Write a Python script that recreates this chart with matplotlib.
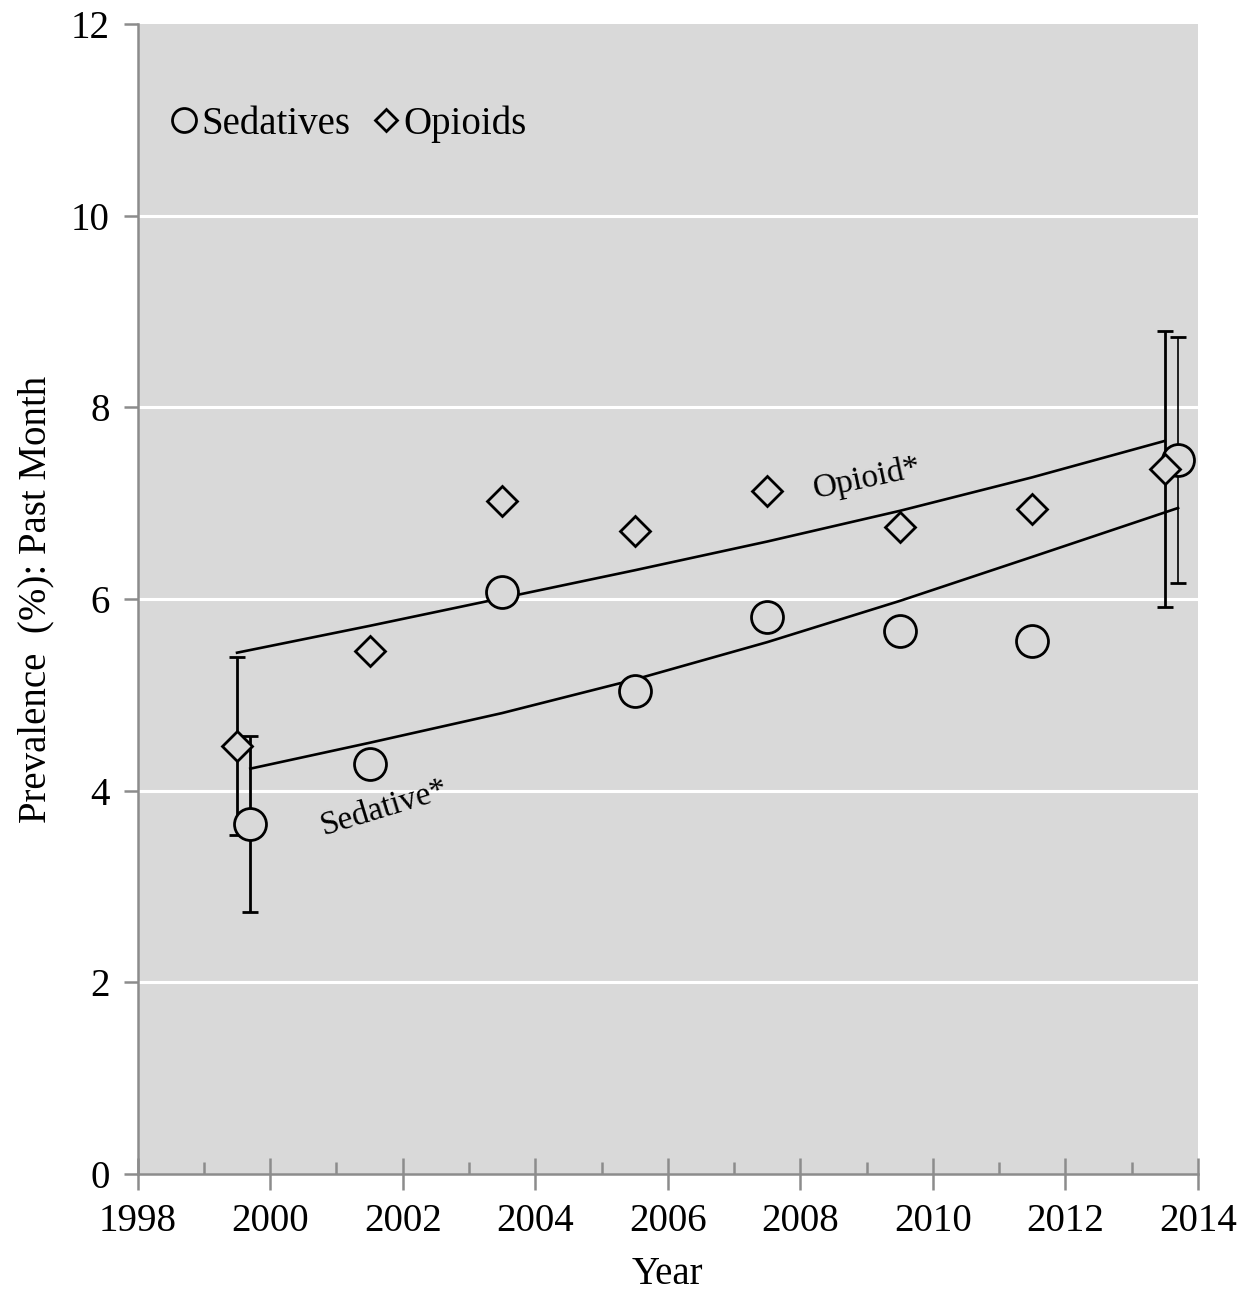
import matplotlib
matplotlib.use('Agg')
import matplotlib.pyplot as plt
from matplotlib.ticker import MultipleLocator

# valores
sed_x = [1999.7, 2001.5, 2003.5, 2005.5, 2007.5, 2009.5, 2011.5, 2013.7]
sed_y = [3.65, 4.28, 6.07, 5.04, 5.81, 5.67, 5.56, 7.45]
opi_x = [1999.5, 2001.5, 2003.5, 2005.5, 2007.5, 2009.5, 2011.5, 2013.5]
opi_y = [4.47, 5.46, 7.02, 6.71, 7.13, 6.75, 6.94, 7.36]

# lineas de tendencia
sed_trend = [4.23, 4.50, 4.81, 5.16, 5.55, 5.98, 6.44, 6.95]
opi_trend = [5.44, 5.72, 6.01, 6.30, 6.60, 6.92, 7.27, 7.65]

# barras de error (solo primer y ultimo año)
sed_err_x = [1999.7, 2013.7]
sed_err_y = [3.65, 7.45]
sed_err = [0.92, 1.28]
opi_err_x = [1999.5, 2013.5]
opi_err_y = [4.47, 7.36]
opi_err = [0.93, 1.44]

plt.rcParams['font.family'] = ['Liberation Serif', 'DejaVu Serif']

fig = plt.figure(figsize=(12.57, 12.92), dpi=100)
ax = fig.add_axes([0.1095, 0.0913, 0.8435, 0.8901])
bg = '#d9d9d9'
ax.set_facecolor(bg)

for v in [2, 4, 6, 8, 10]:
    ax.axhline(v, color='white', lw=2.2, zorder=1)

ax.plot(opi_x, opi_trend, color='black', lw=1.9, zorder=2)
ax.plot(sed_x, sed_trend, color='black', lw=1.9, zorder=2)

ax.errorbar(opi_err_x, opi_err_y, yerr=opi_err, fmt='none', ecolor='black',
            elinewidth=2.0, capsize=6, capthick=2.0, zorder=3)
ax.errorbar(sed_err_x[:1], sed_err_y[:1], yerr=sed_err[:1], fmt='none', ecolor='black',
            elinewidth=2.0, capsize=6, capthick=2.0, zorder=3)
ax.errorbar(sed_err_x[1:], sed_err_y[1:], yerr=sed_err[1:], fmt='none', ecolor='black',
            elinewidth=1.2, capsize=6, capthick=2.0, zorder=3)

ax.plot(sed_x, sed_y, 'o', ms=23, mfc=bg, mec='black', mew=2.0, ls='none',
        zorder=4, label='Sedatives')
ax.plot(opi_x, opi_y, 'D', ms=15.5, mfc=bg, mec='black', mew=2.0, ls='none',
        zorder=5, label='Opioids')

ax.text(2009.0, 7.26, 'Opioid*', fontsize=24, rotation=12, ha='center', va='center')
ax.text(2001.73, 3.82, 'Sedative*', fontsize=24, rotation=17, ha='center', va='center')

ax.set_xlim(1998, 2014)
ax.set_ylim(0, 12)
ax.xaxis.set_major_locator(MultipleLocator(2))
ax.xaxis.set_minor_locator(MultipleLocator(1))
ax.yaxis.set_major_locator(MultipleLocator(2))

for s in ['top', 'right']:
    ax.spines[s].set_visible(False)
for s in ['left', 'bottom']:
    ax.spines[s].set_color('#8c8c8c')
    ax.spines[s].set_linewidth(1.8)

ax.tick_params(axis='x', which='major', direction='inout', length=23, width=1.8,
               color='#8c8c8c', labelsize=28, pad=9)
ax.tick_params(axis='x', which='minor', direction='in', length=9, width=1.8,
               color='#8c8c8c')
ax.tick_params(axis='y', which='major', direction='out', length=10, width=1.8,
               color='#8c8c8c', labelsize=28, pad=10)

ax.set_xlabel('Year', fontsize=28, labelpad=12)
ax.set_ylabel('Prevalence  (%): Past Month', fontsize=28, labelpad=12)

leg = ax.legend(loc='upper left', bbox_to_anchor=(0.0, 0.96), ncol=2, frameon=False,
                fontsize=28, handlelength=0.6, handletextpad=0.15, columnspacing=0.6,
                markerscale=0.75)

fig.savefig('out.png', dpi=100)
